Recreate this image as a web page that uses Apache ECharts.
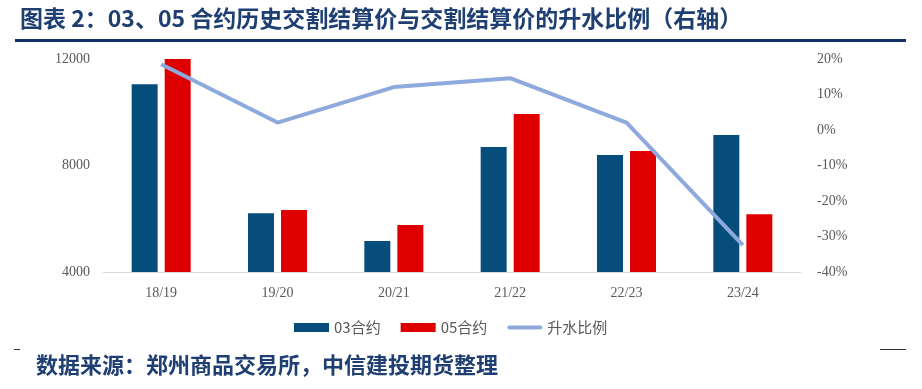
<!DOCTYPE html>
<html><head><meta charset="utf-8">
<script src="https://cdn.jsdelivr.net/npm/echarts@6/dist/echarts.min.js"></script>
<style>html,body{margin:0;padding:0;background:#fff}#c{width:922px;height:389px}</style>
</head><body><div id="c"></div>
<script>
const categories = ['18/19','19/20','20/21','21/22','22/23','23/24'];
const c03 = [11050, 6205, 5165, 8695, 8395, 9145];
const c05 = [12030, 6330, 5765, 9935, 8545, 6165];
const premium = [18.5, 2.1, 12.1, 14.6, 2.1, -32.4];
const leftTicks = [4000, 8000, 12000];
const rightTicks = [-40, -30, -20, -10, 0, 10, 20];

const chart = echarts.init(document.getElementById('c'), null, {renderer:'canvas'});
const serif = '"Liberation Serif", "Times New Roman", serif';
const cjk = '"Noto Sans CJK SC", sans-serif';
chart.setOption({
  animation:false,
  backgroundColor:'#fff',
  graphic:[
    {type:'text', left:20, top:7, style:{text:'图表 2：03、05 合约历史交割结算价与交割结算价的升水比例（右轴）', font:'bold 23px '+cjk, fill:'#1F3F73'}},
    {type:'rect', shape:{x:15, y:39, width:891, height:3}, style:{fill:'#14306A'}},
    {type:'rect', shape:{x:14, y:349, width:6, height:1}, style:{fill:'#333'}},
    {type:'rect', shape:{x:880, y:349, width:26, height:1}, style:{fill:'#333'}},
    {type:'text', left:36, top:354, style:{text:'数据来源：郑州商品交易所，中信建投期货整理', font:'bold 22px '+cjk, fill:'#1F3F73'}}
  ],
  grid:{left:103, right:121, top:59, bottom:117},
  legend:{
    left:294, top:320, padding:0, itemWidth:35, itemHeight:9, itemGap:20,
    textStyle:{fontFamily:cjk, fontSize:15, color:'#595959'},
    data:[
      {name:'03合约', icon:'rect'},
      {name:'05合约', icon:'rect'},
      {name:'升水比例', icon:'path://M2,0 L33,0 A2,2 0 0 1 33,4 L2,4 A2,2 0 0 1 2,0 Z', itemStyle:{color:'#8EA9DB'}}
    ]
  },
  xAxis:{
    type:'category', data:categories,
    axisLine:{onZero:false, lineStyle:{color:'#D9D9D9', width:1}},
    axisTick:{show:false},
    axisLabel:{fontFamily:serif, fontSize:14, color:'#595959', margin:14}
  },
  yAxis:[
    {type:'value', min:4000, max:12000, interval:4000, splitLine:{show:false},
     axisLine:{show:false}, axisTick:{show:false},
     axisLabel:{fontFamily:serif, fontSize:14, color:'#595959', margin:13, formatter:v=>String(v)}},
    {type:'value', min:-40, max:20, interval:10, position:'right', splitLine:{show:false},
     axisLine:{show:false}, axisTick:{show:false},
     axisLabel:{fontFamily:serif, fontSize:14, color:'#595959', margin:16, formatter:v=>v+'%'}}
  ],
  series:[
    {name:'03合约', type:'bar', data:c03, barWidth:26, barGap:'27%', itemStyle:{color:'#064D7C'}},
    {name:'05合约', type:'bar', data:c05, barWidth:26, barGap:'27%', itemStyle:{color:'#DE0000'}},
    {name:'升水比例', type:'line', yAxisIndex:1, data:premium, symbol:'none',
     lineStyle:{color:'#8EA9DB', width:4}, itemStyle:{color:'#8EA9DB'}}
  ]
});
</script></body></html>
